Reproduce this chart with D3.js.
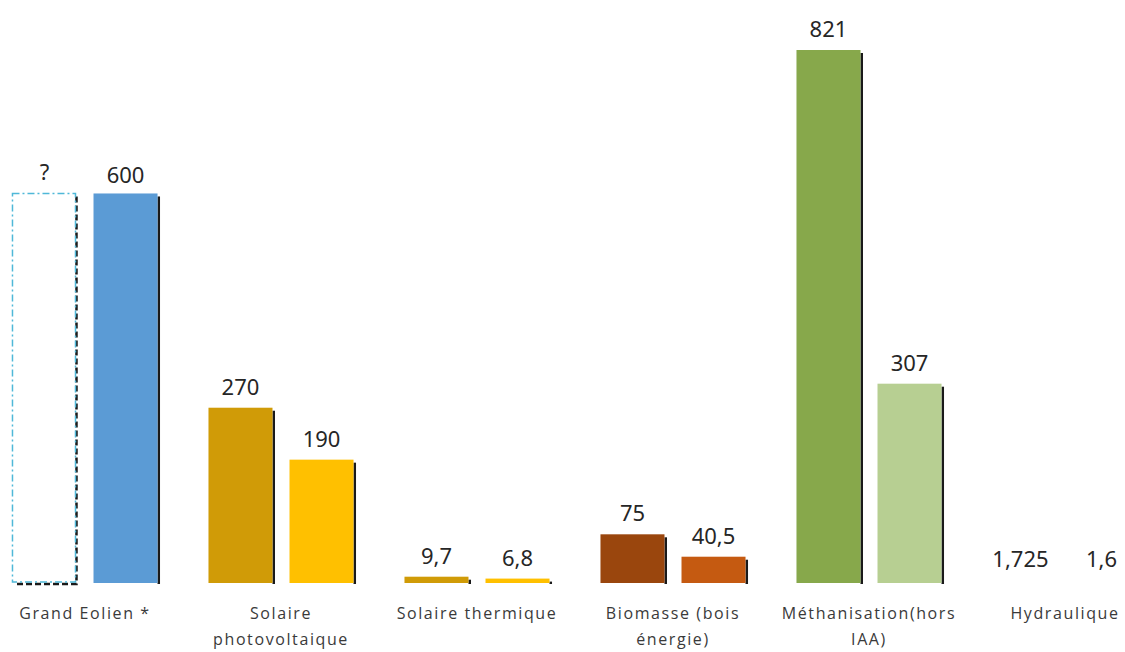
<!DOCTYPE html>
<html>
<head>
<meta charset="utf-8">
<script src="https://cdn.jsdelivr.net/npm/d3@7/dist/d3.min.js"></script>
<style>
  html, body { margin: 0; padding: 0; background: #ffffff; }
  svg { display: block; }
  .val { font-family: "Noto Sans", "Open Sans", sans-serif; font-size: 22px; fill: #262626; }
  .cat { font-family: "Open Sans", "Noto Sans", sans-serif; font-size: 16px; fill: #3a3a3a; letter-spacing: 1.6px; }
</style>
</head>
<body>
<svg id="chart" width="1125" height="652"></svg>
<script>
// Filières d'énergies renouvelables : deux valeurs par filière
const categories = [
  ["Grand Eolien *"],
  ["Solaire", "photovoltaique"],
  ["Solaire thermique"],
  ["Biomasse (bois", "énergie)"],
  ["Méthanisation(hors", "IAA)"],
  ["Hydraulique"]
];
// Première série (null = valeur inconnue, affichée « ? »)
const seriesA = [null, 270, 9.7, 75, 821, 1.725];
// Seconde série
const seriesB = [600, 190, 6.8, 40.5, 307, 1.6];
// Hauteur du cadre pointillé tracé pour la valeur inconnue
const unknownOutline = 600;
// Couleurs par filière : [série A, série B]
const colorsA = ["none", "#D09B07", "#D09B07", "#9A460D", "#87A84B", "#FFFFFF"];
const colorsB = ["#5B9BD5", "#FFC000", "#FFC000", "#C55A11", "#B7CF92", "#FFFFFF"];
// Filières sans ombre portée
const noShadow = [false, false, false, false, false, true];

const baseY = 583;
const svg = d3.select("#chart");

const x0 = d3.scaleBand()
  .domain(d3.range(categories.length))
  .range([-13, 1163])
  .paddingInner(0.26)
  .paddingOuter(0.13);

const x1 = d3.scaleBand()
  .domain([0, 1])
  .range([0, x0.bandwidth()])
  .paddingInner(0.21);

const y = d3.scaleLinear().domain([0, 821]).range([baseY, 50]);

const fmt = v => v === null ? "?" : String(v).replace(".", ",");

const rows = [];
categories.forEach((c, i) => {
  rows.push({ i, s: 0, v: seriesA[i], color: colorsA[i] });
  rows.push({ i, s: 1, v: seriesB[i], color: colorsB[i] });
});

const g = svg.append("g");

rows.forEach(d => {
  const bx = x0(d.i) + x1(d.s);
  const bw = x1.bandwidth();
  const h = d.v === null ? unknownOutline : d.v;
  const top = y(h);
  const bh = baseY - top;

  if (d.v === null) {
    // cadre pointillé avec ombre
    g.append("path")
      .attr("d", `M${bx + bw},${top + 3} V${baseY + 1} H${bx + 3}`)
      .attr("fill", "none").attr("stroke", "#1a1a1a").attr("stroke-width", 2.5)
      .attr("stroke-dasharray", "6,3");
    g.append("rect")
      .attr("x", bx).attr("y", top).attr("width", bw - 1).attr("height", bh - 1)
      .attr("fill", "none").attr("stroke", "#4FB8D8").attr("stroke-width", 1.5)
      .attr("stroke-dasharray", "7,3,2,3");
  } else {
    // ombre portée à droite
    if (!noShadow[d.i]) {
      if (bh > 3) {
        g.append("rect")
          .attr("x", bx + bw).attr("y", top + 3)
          .attr("width", 2.5).attr("height", Math.max(0, bh - 2))
          .attr("fill", "#1a1a1a");
      } else {
        g.append("rect")
          .attr("x", bx + bw).attr("y", baseY - 1)
          .attr("width", 2).attr("height", 2)
          .attr("fill", "#333");
      }
    }
    g.append("rect")
      .attr("x", bx).attr("y", top).attr("width", bw).attr("height", bh)
      .attr("fill", d.color);
  }

  g.append("text")
    .attr("class", "val")
    .attr("x", bx + bw / 2 - (d.i === 5 ? 4 : 0))
    .attr("y", Math.min(top, baseY - 3) - (d.v === 600 ? 10 : 13))
    .attr("text-anchor", "middle")
    .text(fmt(d.v));
});

// libellés des filières
categories.forEach((lines, i) => {
  const cx = x0(i) + x0.bandwidth() / 2;
  const t = svg.append("text")
    .attr("class", "cat")
    .attr("text-anchor", "middle")
    .attr("x", cx)
    .attr("y", 619);
  lines.forEach((ln, k) => {
    t.append("tspan")
      .attr("x", cx)
      .attr("dy", k === 0 ? 0 : 26)
      .text(ln);
  });
});
</script>
</body>
</html>
